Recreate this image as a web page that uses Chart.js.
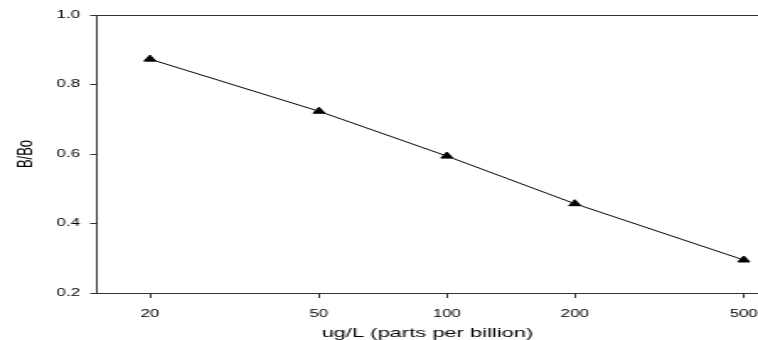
<!DOCTYPE html>
<html><head><meta charset="utf-8">
<script src="https://cdn.jsdelivr.net/npm/chart.js@4/dist/chart.umd.min.js"></script>
<style>
html,body{margin:0;padding:0;background:#fff;overflow:hidden}
#wrap{width:758px;height:340px;overflow:hidden}
#c{display:block;transform-origin:0 0;transform:scaleX(1.684444)}
</style></head><body>
<div id="wrap"><canvas id="c" width="450" height="340" style="width:450px;height:340px"></canvas></div>
<script>
const concentrations = [20, 50, 100, 200, 500];
const bBo = [0.873, 0.723, 0.594, 0.457, 0.295];
const xTickValues = [20, 50, 100, 200, 500];
const yTickValues = [0.2, 0.4, 0.6, 0.8, 1.0];
const xTitle = 'ug/L (parts per billion)';
const yTitle = 'B/Bo';

const axisColor = '#333';
const textColor = '#000';
const family = "'Liberation Sans', Arial, sans-serif";

const topFrame = {
  id: 'topFrame',
  afterDraw(chart) {
    const {ctx, chartArea: a} = chart;
    ctx.save();
    ctx.strokeStyle = axisColor;
    ctx.lineWidth = 1;
    ctx.beginPath();
    const y = Math.round(a.top) + 0.5;
    ctx.moveTo(a.left, y);
    ctx.lineTo(a.right, y);
    ctx.stroke();
    ctx.restore();
  }
};

new Chart(document.getElementById('c'), {
  type: 'line',
  data: {
    datasets: [{
      data: concentrations.map((x, i) => ({x, y: bBo[i]})),
      borderColor: '#000',
      borderWidth: 1,
      tension: 0,
      pointStyle: 'triangle',
      pointRadius: 4,
      pointBackgroundColor: '#000',
      pointBorderColor: '#000',
      pointBorderWidth: 1,
      clip: false
    }]
  },
  plugins: [topFrame],
  options: {
    responsive: false,
    animation: false,
    devicePixelRatio: 1,
    layout: {autoPadding: false, padding: {top: 15, right: 0, bottom: 0, left: 0}},
    plugins: {legend: {display: false}, tooltip: {enabled: false}},
    scales: {
      x: {
        type: 'logarithmic',
        position: 'bottom',
        min: 15,
        max: 540,
        afterBuildTicks: s => { s.ticks = xTickValues.map(v => ({value: v})); },
        afterFit: s => { s.height = 47; s.paddingLeft = 0; s.paddingRight = 0; },
        grid: {display: true, drawOnChartArea: false, drawTicks: true, tickLength: 5, color: axisColor, lineWidth: 1},
        border: {display: true, color: axisColor, width: 1},
        ticks: {
          autoSkip: false, maxRotation: 0, padding: 10,
          color: textColor, font: {family, size: 10},
          callback: v => String(v)
        },
        title: {display: true, text: xTitle, color: textColor, font: {family, size: 13}, padding: {top: 0, bottom: -1.5}}
      },
      y: {
        type: 'linear',
        min: 0.2,
        max: 1.0,
        afterBuildTicks: s => { s.ticks = yTickValues.map(v => ({value: v})); },
        afterFit: s => { s.width = 57.5; s.paddingTop = 0; s.paddingBottom = 0; },
        grid: {display: true, drawOnChartArea: false, drawTicks: true, tickLength: 4, color: axisColor, lineWidth: 1},
        border: {display: true, color: axisColor, width: 1},
        ticks: {
          padding: 6, color: textColor, font: {family, size: 10},
          callback: v => Number(v).toFixed(1)
        },
        title: {display: true, text: yTitle, color: textColor, font: {family, size: 13}, padding: {top: 8, bottom: 0}}
      }
    }
  }
});
</script>
</body></html>
